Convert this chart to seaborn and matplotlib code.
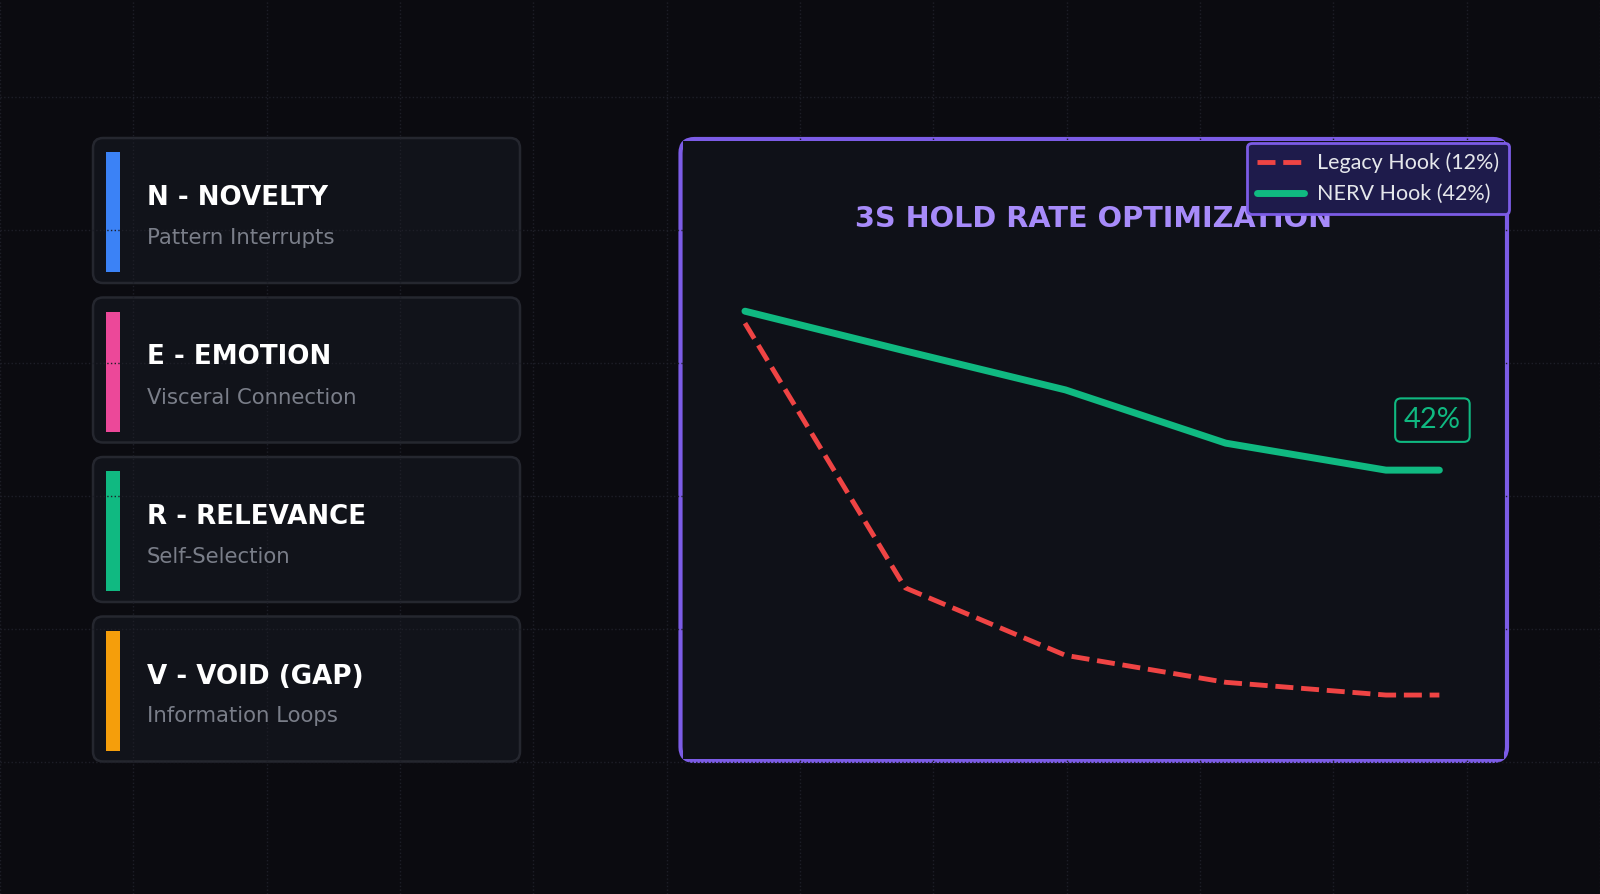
import numpy as np
import pandas as pd
import matplotlib
matplotlib.use('Agg')
import matplotlib.pyplot as plt
from matplotlib.patches import FancyBboxPatch, Rectangle
import seaborn as sns

# Datos de las tarjetas (izquierda):
card_titles = ['N - NOVELTY', 'E - EMOTION', 'R - RELEVANCE', 'V - VOID (GAP)']
card_subtitles = ['Pattern Interrupts', 'Visceral Connection', 'Self-Selection', 'Information Loops']
card_colors = ['#3b82f6', '#ec4899', '#10b981', '#f59e0b']

# Datos de la gráfica (retención en %, tiempo en segundos):
time_s = [0, 0.6, 1.2, 1.8, 2.4, 2.6]
legacy_hold = [61.6, 26.3, 17.3, 13.7, 12.0, 12.0]
nerv_hold = [63.2, 57.9, 52.7, 45.6, 42.0, 42.0]
series_labels = ['Legacy Hook (12%)', 'NERV Hook (42%)']
chart_title = '3S HOLD RATE OPTIMIZATION'
end_label = '42%'

BG = '#0b0b10'
PANEL = '#0f1118'
CARD = '#11131a'
PURPLE = '#7c5ce6'
RED = '#ef4444'
GREEN = '#10b981'
LEGEND_FONT = ['Lato', 'DejaVu Sans']

sns.set_theme(style='dark', rc={'figure.facecolor': BG, 'axes.facecolor': BG})
plt.rcParams['font.family'] = ['DejaVu Sans']

fig = plt.figure(figsize=(16, 8.94), dpi=100)

# Fondo con rejilla punteada (coordenadas en píxeles):
bg = fig.add_axes([0, 0, 1, 1])
bg.set_xlim(0, 1600)
bg.set_ylim(894, 0)
bg.set_facecolor(BG)
bg.set_xticks(np.arange(0, 1601, 1600 / 12))
bg.set_yticks(np.arange(762, 0, -133))
bg.tick_params(length=0, labelbottom=False, labelleft=False)
bg.grid(True, color='#1e1f28', linestyle=':', linewidth=1)
bg.set_axisbelow(False)
for s in bg.spines.values():
    s.set_visible(False)

# Tarjetas N.E.R.V.
card_x, card_w, card_h, card_step, card_top = 93, 427, 145, 159.5, 138
for i, (t, sub, c) in enumerate(zip(card_titles, card_subtitles, card_colors)):
    top = card_top + i * card_step
    bg.add_patch(FancyBboxPatch((card_x, top), card_w, card_h,
                                boxstyle='round,pad=0,rounding_size=10',
                                fc=CARD, ec='#25272f', lw=1.8, zorder=1))
    bg.add_patch(Rectangle((106, top + 14), 14, 120, fc=c, ec='none', zorder=1.2))
    bg.text(147, top + 67, t, color='white', fontsize=18.8, fontweight='bold',
            va='baseline', ha='left', zorder=3)
    bg.text(147, top + 106, sub, color='#7a7e89', fontsize=15.3,
            va='baseline', ha='left', zorder=3)

# Marco redondeado de la gráfica:
bg.add_patch(FancyBboxPatch((680.5, 139), 826.5, 622,
                            boxstyle='round,pad=0,rounding_size=14',
                            fc=PANEL, ec=PURPLE, lw=3, zorder=1))

# Gráfica de retención:
ax = fig.add_axes([683 / 1600, 1 - 759 / 894, 821 / 1600, 618 / 894])
ax.set_facecolor(PANEL)
sns.lineplot(x=time_s, y=legacy_hold, color=RED, lw=3.5, linestyle='--',
             label=series_labels[0], ax=ax)
sns.lineplot(x=time_s, y=nerv_hold, color=GREEN, lw=5,
             label=series_labels[1], ax=ax)
ax.set_xlim(-0.232, 2.842)
ax.set_ylim(3.47, 85.9)
ax.set_xticks([])
ax.set_yticks([])
ax.set_xlabel('')
ax.set_ylabel('')
ax.grid(False)
for s in ax.spines.values():
    s.set_visible(False)

ax.text(0.5, 0.861, chart_title, transform=ax.transAxes, ha='center', va='baseline',
        fontsize=20.7, fontweight='bold', color='#a78bfa')

ax.annotate(end_label, xy=(time_s[-1], nerv_hold[-1]), xytext=(-5, 36),
            textcoords='offset points', ha='center', va='center',
            fontsize=21, color=GREEN, family=LEGEND_FONT,
            bbox=dict(boxstyle='round,pad=0.3,rounding_size=0.2', fc=PANEL, ec=GREEN, lw=1.5))

leg = ax.legend(loc='upper right', bbox_to_anchor=(1509 / 1600, 1 - 143 / 894),
                bbox_transform=fig.transFigure, borderaxespad=0, frameon=True,
                fancybox=True, framealpha=1, facecolor='#1e1b4b', edgecolor=PURPLE,
                prop={'family': LEGEND_FONT, 'size': 15.5}, labelcolor='#e5e7eb',
                handlelength=2.2, handletextpad=0.6, borderpad=0.45)
leg.get_frame().set_linewidth(2)

fig.savefig('out.png', dpi=100, facecolor=BG)
